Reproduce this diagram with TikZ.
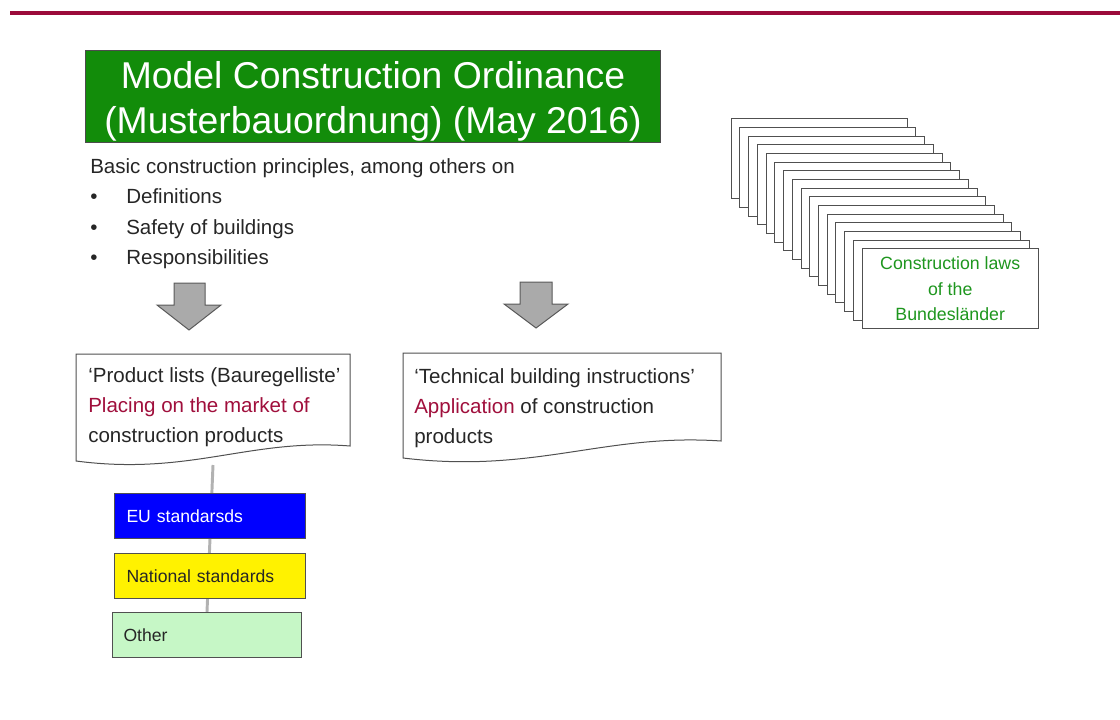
\documentclass[tikz,border=0pt]{standalone}
\usepackage{fontspec}
\setmainfont{Liberation Sans}
\definecolor{topred}{RGB}{155,10,58}
\definecolor{titlegreen}{RGB}{18,140,10}
\definecolor{maroontext}{RGB}{160,15,60}
\definecolor{textgray}{RGB}{38,38,38}
\definecolor{cardgreen}{RGB}{30,150,30}
\definecolor{arrowfill}{RGB}{170,170,170}
\definecolor{arrowline}{RGB}{90,90,90}
\definecolor{otherfill}{RGB}{198,247,198}
\definecolor{boxline}{RGB}{80,80,80}
\begin{document}
\begin{tikzpicture}[x=0.75pt,y=-0.75pt,
  bodytext/.style={anchor=base west, inner sep=0pt, text=textgray, font=\fontsize{15.4}{22.5}\selectfont},
  downarrow/.style={fill=arrowfill, draw=arrowline, line width=0.75pt},
  docshape/.style={fill=white, draw=boxline, line width=0.75pt},
  stdbox/.style={anchor=north west, draw=boxline, line width=0.75pt, inner ysep=0pt, inner xsep=9pt,
    text width=125.25pt, minimum height=33.75pt, align=left, font=\fontsize{13.2}{16}\selectfont},
  card/.style={anchor=north west, fill=white, draw=boxline, line width=0.75pt, minimum width=132pt, minimum height=60pt, inner sep=0pt},
  connector/.style={draw=black!30, line width=2.2pt}
]
\useasboundingbox (0,0) rectangle (1120,720);
% top rule
\coordinate (rulel) at (10,13);
\coordinate (ruler) at (1120,13);
\draw[topred, line width=3pt] (rulel) -- (ruler);

% title
\node[anchor=north west, fill=titlegreen, draw=black!70, line width=0.75pt,
      minimum width=431.25pt, minimum height=69pt, inner sep=0pt] (title) at (85,50) {};
\node[text=white, align=center, inner sep=0pt, font=\fontsize{28}{33.75}\selectfont,
      yshift=-3.5pt] (titletext) at (title.center)
  {Model Construction Ordinance\\(Musterbauordnung) (May 2016)};

% intro text
\node[bodytext] (intro) at (90,174) {Basic construction principles, among others on};
\node[bodytext] (b1) at (90,204) {•};
\node[bodytext] (t1) at (126,204) {Definitions};
\node[bodytext] (b2) at (90,234) {•};
\node[bodytext] (t2) at (126,234) {Safety of buildings};
\node[bodytext] (b3) at (90,264) {•};
\node[bodytext] (t3) at (126,264) {Responsibilities};

% block arrows
\draw[downarrow] (174,283) -- (205,283) -- (205,305) -- (221,305) -- (189,330) -- (157,305) -- (174,305) -- cycle;
\draw[downarrow] (520,282) -- (552,282) -- (552,304) -- (568,304) -- (536,328) -- (504,304) -- (520,304) -- cycle;

% connector from product list down to the standards boxes
\coordinate (plbot) at (213,465);
\coordinate (othertop) at (207,612);
\draw[connector] (plbot) -- (othertop);

% product list document
\coordinate (pl-nw) at (76,354);
\coordinate (pl-ne) at (350,354);
\coordinate (pl-se) at (350,446);
\coordinate (pl-sw) at (76,461);
\draw[docshape] (pl-sw) -- (pl-nw) -- (pl-ne) -- (pl-se)
  .. controls (250,438) and (190,476) .. (pl-sw) -- cycle;
\node[bodytext] (pl1) at (88,382) {‘Product lists (Bauregelliste’};
\node[bodytext, text=maroontext] (pl2) at (88,412) {Placing on the market of};
\node[bodytext] (pl3) at (88,442) {construction products};

% technical building instructions document
\coordinate (tb-nw) at (403,353);
\coordinate (tb-ne) at (721,353);
\coordinate (tb-se) at (721,441);
\coordinate (tb-sw) at (403,458);
\draw[docshape] (tb-sw) -- (tb-nw) -- (tb-ne) -- (tb-se)
  .. controls (605,433) and (535,474) .. (tb-sw) -- cycle;
\node[bodytext] (tb1) at (414,383) {‘Technical building instructions’};
\node[bodytext] (tb2) at (414,413) {\textcolor{maroontext}{Application} of construction};
\node[bodytext] (tb3) at (414,443) {products};

% standards boxes
\node[stdbox, fill=blue, text=white] (eu) at (114,493) {EU standarsds};
\node[stdbox, fill=yellow, text=textgray] (nat) at (114,553) {National standards};
\node[stdbox, fill=otherfill, text=textgray, inner xsep=8.25pt] (other) at (112,612) {Other};

% stacked cards of the Bundeslaender
\foreach \i in {0,...,14} {
  \node[card] (card\i) at ({730.7+\i*8.73},{118.3+\i*8.67}) {};
}
\node[card, text=cardgreen, align=center, font=\fontsize{13.3}{19}\selectfont] (laws) at (861.7,248.3)
  {Construction laws\\of the\\Bundesländer};
\end{tikzpicture}
\end{document}
